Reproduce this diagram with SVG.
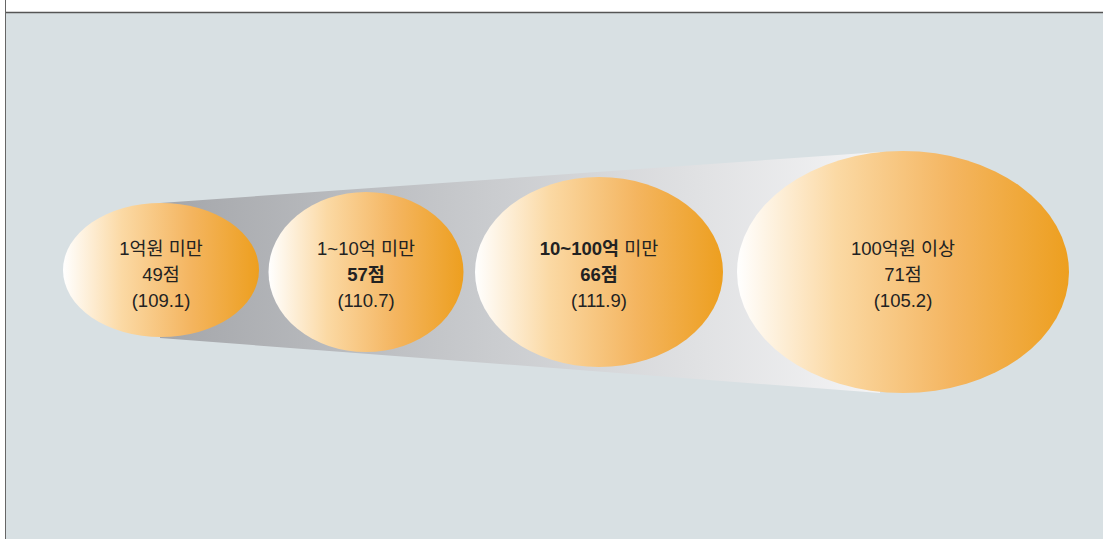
<svg xmlns="http://www.w3.org/2000/svg" width="1103" height="539" viewBox="0 0 1103 539">
<defs>
<linearGradient id="og" x1="0" y1="0" x2="1" y2="0">
<stop offset="0" stop-color="#ffffff"/>
<stop offset="0.3" stop-color="#fbd9a4"/>
<stop offset="0.65" stop-color="#f4b560"/>
<stop offset="1" stop-color="#ed9f1f"/>
</linearGradient>
<linearGradient id="fg" x1="160" y1="0" x2="900" y2="0" gradientUnits="userSpaceOnUse">
<stop offset="0" stop-color="#a4a6aa"/>
<stop offset="0.45" stop-color="#cacccf"/>
<stop offset="1" stop-color="#f6f6f7"/>
</linearGradient>
<style>
.t{font-family:"Liberation Sans","Noto Sans CJK KR",sans-serif;font-size:18.5px;fill:#222;text-anchor:middle}
.b{font-weight:bold}
.e{fill:url(#og)}
</style>
</defs>
<rect x="0" y="0" width="1103" height="539" fill="#ffffff"/>
<rect x="6" y="13" width="1097" height="526" fill="#d8e0e3"/>
<line x1="6" y1="12.5" x2="1103" y2="12.5" stroke="#555" stroke-width="1.5"/>
<line x1="5.5" y1="0" x2="5.5" y2="539" stroke="#666" stroke-width="1"/>
<g id="connectors">
<polygon points="160,203 880,152 880,393 160,338" fill="url(#fg)"/>
</g>
<g id="node1">
<ellipse class="e" cx="161" cy="270" rx="98" ry="67"/>
<text class="t" x="161" y="255">1억원 미만</text>
<text class="t" x="161" y="281">49점</text>
<text class="t" x="161" y="307">(109.1)</text>
</g>
<g id="node2">
<ellipse class="e" cx="366" cy="272" rx="97.5" ry="80"/>
<text class="t" x="366" y="255">1~10억 미만</text>
<text class="t b" x="366" y="281">57점</text>
<text class="t" x="366" y="307">(110.7)</text>
</g>
<g id="node3">
<ellipse class="e" cx="599" cy="272" rx="124" ry="95"/>
<text class="t" x="599" y="255"><tspan class="b">10~100억</tspan> 미만</text>
<text class="t b" x="599" y="281">66점</text>
<text class="t" x="599" y="307">(111.9)</text>
</g>
<g id="node4">
<ellipse class="e" cx="903" cy="272" rx="166" ry="121"/>
<text class="t" x="903" y="255">100억원 이상</text>
<text class="t" x="903" y="281">71점</text>
<text class="t" x="903" y="307">(105.2)</text>
</g>
</svg>
